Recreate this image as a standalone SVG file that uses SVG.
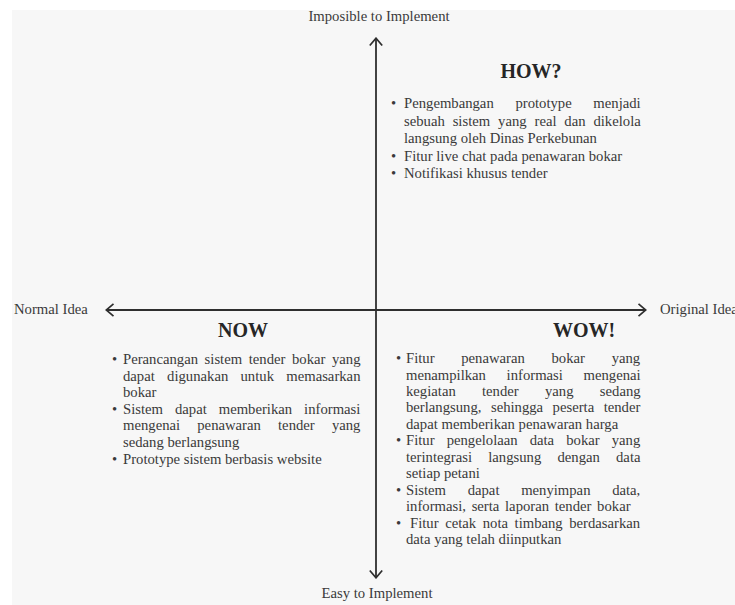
<svg xmlns="http://www.w3.org/2000/svg" width="735" height="605" viewBox="0 0 735 605">
<style>
.bg{fill:#f7f7f7}
.t{font-family:"Liberation Serif","Times New Roman",serif;font-size:14.7px;fill:#3a3a3a}
.ttl{font-family:"Liberation Serif","Times New Roman",serif;font-size:20px;font-weight:bold;fill:#262626;text-anchor:middle}
.ax{stroke:#2e2e2e;stroke-width:1.8;fill:none}
</style>
<defs>
<marker id="chev" viewBox="0 0 10 14" refX="9" refY="7" markerWidth="10" markerHeight="14" markerUnits="userSpaceOnUse" orient="auto-start-reverse">
<path d="M1.5,0.8 L8.8,7 L1.5,13.2" fill="none" stroke="#2e2e2e" stroke-width="1.7"/>
</marker>
</defs>
<rect class="bg" x="12" y="10" width="723" height="595"/>
<g id="connectors">
<path class="ax" d="M376,578 L376,38" marker-start="url(#chev)" marker-end="url(#chev)"/>
<path class="ax" d="M106,310 L646,310" marker-start="url(#chev)" marker-end="url(#chev)"/>
</g>
<g id="label-top"><text class="t" x="379" y="21" text-anchor="middle">Imposible to Implement</text></g>
<g id="label-bottom"><text class="t" x="377" y="598" text-anchor="middle">Easy to Implement</text></g>
<g id="label-left"><text class="t" x="14" y="314">Normal Idea</text></g>
<g id="label-right"><text class="t" x="660" y="314">Original Idea</text></g>
<g id="how">
<text class="ttl" x="531" y="78">HOW?</text>
<text class="t" x="391" y="108">•</text>
<text class="t" x="404" y="108" style="word-spacing:18px">Pengembangan prototype menjadi</text>
<text class="t" x="404" y="125.5" style="word-spacing:4.2px">sebuah sistem yang real dan dikelola</text>
<text class="t" x="404" y="143">langsung oleh Dinas Perkebunan</text>
<text class="t" x="391" y="160.5">•</text>
<text class="t" x="404" y="160.5">Fitur live chat pada penawaran bokar</text>
<text class="t" x="391" y="178">•</text>
<text class="t" x="404" y="178">Notifikasi khusus tender</text>
</g>
<g id="now">
<text class="ttl" x="243" y="337">NOW</text>
<text class="t" x="112" y="364">•</text>
<text class="t" x="123" y="364" style="word-spacing:2.9px">Perancangan sistem tender bokar yang</text>
<text class="t" x="123" y="380.6" style="word-spacing:8.6px">dapat digunakan untuk memasarkan</text>
<text class="t" x="123" y="397.2">bokar</text>
<text class="t" x="112" y="413.8">•</text>
<text class="t" x="123" y="413.8" style="word-spacing:8.3px">Sistem dapat memberikan informasi</text>
<text class="t" x="123" y="430.4" style="word-spacing:13.5px">mengenai penawaran tender yang</text>
<text class="t" x="123" y="447">sedang berlangsung</text>
<text class="t" x="112" y="463.6">•</text>
<text class="t" x="123" y="463.6">Prototype sistem berbasis website</text>
</g>
<g id="wow">
<text class="ttl" x="584" y="337">WOW!</text>
<text class="t" x="396" y="363">•</text>
<text class="t" x="406" y="363" style="word-spacing:23px">Fitur penawaran bokar yang</text>
<text class="t" x="406" y="379.5" style="word-spacing:17px">menampilkan informasi mengenai</text>
<text class="t" x="406" y="396" style="word-spacing:22.6px">kegiatan tender yang sedang</text>
<text class="t" x="406" y="412.4" style="word-spacing:5.8px">berlangsung, sehingga peserta tender</text>
<text class="t" x="406" y="428.8">dapat memberikan penawaran harga</text>
<text class="t" x="396" y="445.3">•</text>
<text class="t" x="406" y="445.3" style="word-spacing:8.4px">Fitur pengelolaan data bokar yang</text>
<text class="t" x="406" y="461.7" style="word-spacing:12.5px">terintegrasi langsung dengan data</text>
<text class="t" x="406" y="478.2">setiap petani</text>
<text class="t" x="396" y="494.6">•</text>
<text class="t" x="406" y="494.6" style="word-spacing:18px">Sistem dapat menyimpan data,</text>
<text class="t" x="406" y="511" style="word-spacing:2px">informasi, serta laporan tender bokar</text>
<text class="t" x="396" y="527.5">•</text>
<text class="t" x="410" y="527.5" style="word-spacing:2.9px">Fitur cetak nota timbang berdasarkan</text>
<text class="t" x="406" y="544">data yang telah diinputkan</text>
</g>
</svg>
